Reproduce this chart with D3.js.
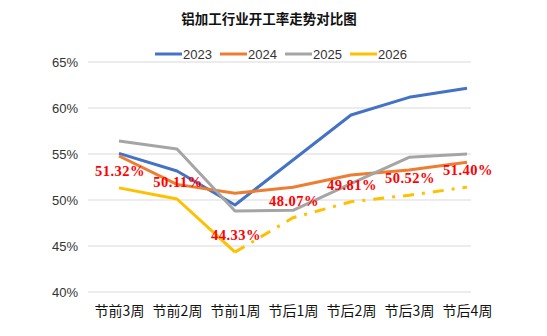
<!DOCTYPE html>
<html><head><meta charset="utf-8">
<script src="https://cdn.jsdelivr.net/npm/d3@7"></script>
<style>body{margin:0;background:#fff;}svg{display:block;}</style>
</head><body>
<svg id="c" width="547" height="336"></svg>
<script>
const categories = ["节前3周","节前2周","节前1周","节后1周","节后2周","节后3周","节后4周"];
const series2023 = [55.07, 53.15, 49.46, 54.35, 59.24, 61.16, 62.14];
const series2024 = [54.78, 51.70, 50.73, 51.38, 52.72, 53.26, 54.10];
const series2025 = [56.41, 55.54, 48.80, 48.88, 51.77, 54.64, 55.00];
const series2026 = [51.32, 50.11, 44.33, 48.07, 49.81, 50.52, 51.40];
const actualCount2026 = 3; // first three weeks solid, remainder forecast
const yTicks = [40, 45, 50, 55, 60, 65];
const seriesNames = ["2023","2024","2025","2026"];
const colors = ["#4472C4","#ED7D31","#A5A5A5","#FFC000"];

const svg = d3.select("#c");
const x = d3.scalePoint().domain(categories).range([119, 467]);
const y = d3.scaleLinear().domain([40, 65]).range([292, 62]);
const gridX0 = 88, gridX1 = 471;

// gridlines
svg.append("g").selectAll("line").data(yTicks).join("line")
  .attr("x1", gridX0).attr("x2", gridX1)
  .attr("y1", d => y(d)).attr("y2", d => y(d))
  .attr("stroke", "#D9D9D9").attr("stroke-width", 1);

// y axis labels
const yAxis = d3.axisLeft(y).tickValues(yTicks).tickFormat(d => d + "%").tickSize(0).tickPadding(0);
const ga = svg.append("g").attr("transform", `translate(78,0)`).call(yAxis);
ga.select(".domain").remove();
ga.selectAll("text").attr("font-family", "'Liberation Sans', Arial, sans-serif").attr("font-size", 13).attr("fill", "#333").attr("dy", "0.35em");

// x axis labels
const xAxis = d3.axisBottom(x).tickSize(0).tickPadding(0);
const gx = svg.append("g").attr("transform", `translate(0,303)`).call(xAxis);
gx.select(".domain").remove();
gx.selectAll("text").attr("font-family", "'Noto Sans CJK SC', sans-serif").attr("font-size", 14).attr("fill", "#111").attr("dy", "0.35em")
  .attr("y", 8);

const line = d3.line().x((d, i) => x(categories[i])).y(d => y(d));
const lineIdx = d3.line().x(d => x(categories[d.i])).y(d => y(d.v));

const allSeries = [series2023, series2024, series2025];
allSeries.forEach((s, k) => {
  svg.append("path").attr("d", line(s)).attr("fill", "none")
    .attr("stroke", colors[k]).attr("stroke-width", 3).attr("stroke-linejoin", "round");
});
// 2026 solid part
const pts2026 = series2026.map((v, i) => ({v, i}));
svg.append("path").attr("d", lineIdx(pts2026.slice(0, actualCount2026))).attr("fill", "none")
  .attr("stroke", colors[3]).attr("stroke-width", 3).attr("stroke-linejoin", "round");
svg.append("path").attr("d", lineIdx(pts2026.slice(actualCount2026 - 1))).attr("fill", "none")
  .attr("stroke", colors[3]).attr("stroke-width", 3).attr("stroke-dasharray", "11,8,3,8");

// data labels
svg.append("g").selectAll("text").data(pts2026).join("text")
  .attr("x", d => x(categories[d.i]) + 1)
  .attr("y", d => y(d.v) - 12)
  .attr("text-anchor", "middle")
  .attr("font-family", "'Liberation Serif', 'Times New Roman', serif")
  .attr("font-weight", "bold").attr("font-size", 14.5).attr("fill", "#FF0000")
  .attr("letter-spacing", 0.5)
  .text(d => d.v.toFixed(2) + "%");

// title
svg.append("text").attr("x", 269).attr("y", 24).attr("text-anchor", "middle")
  .attr("font-family", "'Noto Sans CJK SC', sans-serif").attr("font-weight", "bold")
  .attr("font-size", 13.5).attr("fill", "#111").text("铝加工行业开工率走势对比图");

// legend
const legX = [155, 220, 285, 350];
const lg = svg.append("g");
seriesNames.forEach((n, k) => {
  lg.append("line").attr("x1", legX[k]).attr("x2", legX[k] + 27).attr("y1", 54).attr("y2", 54)
    .attr("stroke", colors[k]).attr("stroke-width", 3);
  lg.append("text").attr("x", legX[k] + 28).attr("y", 54).attr("dy", "0.35em")
    .attr("font-family", "'Liberation Sans', Arial, sans-serif").attr("font-size", 13).attr("fill", "#333").text(n);
});
</script>
</body></html>
